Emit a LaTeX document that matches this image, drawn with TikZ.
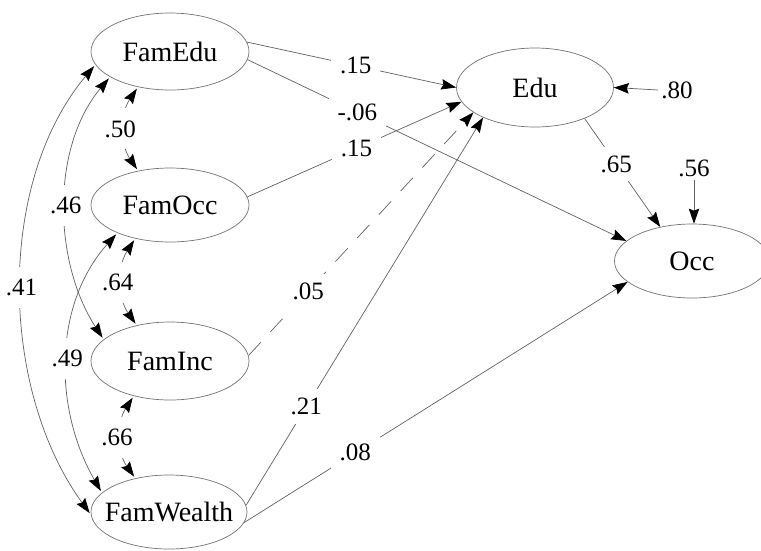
\documentclass[tikz,border=0pt]{standalone}
\usepackage{fontspec}
\setmainfont{Liberation Serif}
\usetikzlibrary{shapes.geometric,arrows.meta}
\begin{document}
\begin{tikzpicture}[x=1pt,y=1pt,
  lat/.style={ellipse,draw=black!55,line width=0.7pt,fill=white,inner sep=0pt},
  every label/.style={font=\fontsize{28}{30}\selectfont,inner sep=0pt,text=black},
  coef/.style={fill=white,inner xsep=9pt,inner ysep=9pt,font=\fontsize{25}{27}\selectfont},
  vcoef/.style={coef,inner xsep=2pt,inner ysep=12pt},
  errlbl/.style={inner sep=3pt,font=\fontsize{25}{27}\selectfont},
  tip/.tip={Stealth[length=15pt,width=10.5pt,inset=2pt,color=black]},
  reg/.style={draw=black!62,line width=0.7pt,-tip},
  cov/.style={draw=black!62,line width=0.7pt,tip-tip,shorten <=2pt,shorten >=2pt},
]
\useasboundingbox (0,0) rectangle (761,-550);

% latent variables
\node[lat,minimum width=158pt,minimum height=77pt,label={center:FamEdu}] (FamEdu) at (170,-51.5) {};
\node[lat,minimum width=158pt,minimum height=74pt,label={center:FamOcc}] (FamOcc) at (170,-205) {};
\node[lat,minimum width=158pt,minimum height=78pt,label={center:FamInc}] (FamInc) at (170,-361) {};
\node[lat,minimum width=156pt,minimum height=74pt,label={center:FamWealth}] (FamWealth) at (169,-512) {};
\node[lat,minimum width=157pt,minimum height=79pt,label={center:Edu}] (Edu) at (535,-87.5) {};
\node[lat,minimum width=155pt,minimum height=74pt,label={center:Occ}] (Occ) at (692,-261) {};

% covariances
\draw[cov] (FamEdu.228) to[bend right=34] node[vcoef,xshift=-4pt] {.50} (FamOcc.133);
\draw[cov] (FamOcc.224) to[bend right=34] node[vcoef,xshift=-4pt] {.64} (FamInc.133);
\draw[cov] (FamInc.224) to[bend right=34] node[vcoef,xshift=-4pt] {.66} (FamWealth.135);
\draw[cov] (FamEdu.203) to[out=230,in=123,looseness=0.9] node[vcoef] {.46} (FamInc.162);
\draw[cov] (FamOcc.208) to[out=228,in=120,looseness=0.95] node[vcoef] {.49} (FamWealth.164);
\draw[cov] (FamEdu.190) to[out=230,in=126,looseness=0.88] node[vcoef] {.41} (FamWealth.182);

% regressions
\draw[reg] (FamEdu.7) -- node[coef,pos=0.52] {.15} (Edu.180);
\draw[reg] (FamEdu.354) -- node[coef,pos=0.29] {-.06} (Occ.163);
\draw[reg] (FamOcc.6) -- node[coef,pos=0.51] {.15} (Edu.191);
\draw[reg,dash pattern=on 18pt off 14pt] (FamInc.4) -- node[coef,pos=0.265] {.05} (Edu.202);
\draw[reg] (FamWealth.5) -- node[coef,pos=0.254] {.21} (Edu.210);
\draw[reg] (FamWealth.352) -- node[coef,pos=0.29] {.08} (Occ.198);
\draw[reg] (Edu.328) -- node[coef,pos=0.42] {.65} (Occ.133);

% residuals
\node[errlbl] (e80) at (677,-90) {.80};
\draw[reg] (e80.west) -- (Edu.east);
\node[errlbl] (e56) at (694,-168) {.56};
\draw[reg] (e56.south) -- (e56.south |- Occ.north);
\end{tikzpicture}
\end{document}
